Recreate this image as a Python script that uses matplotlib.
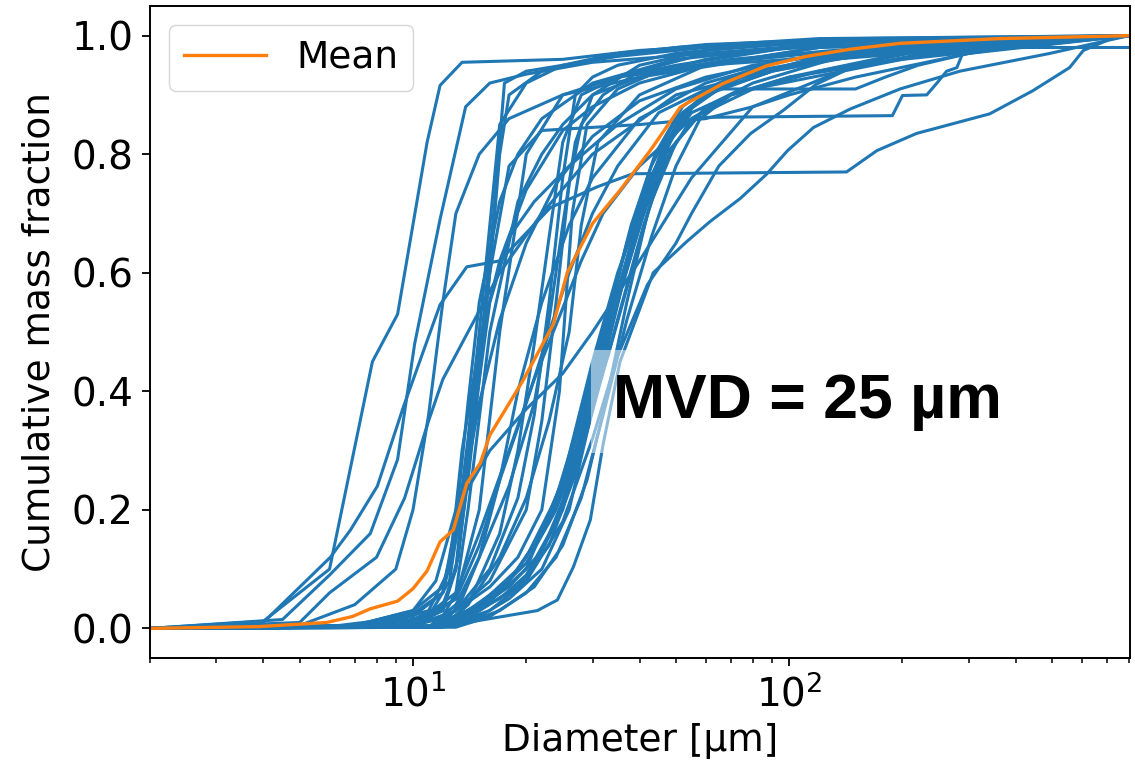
import matplotlib

matplotlib.use("Agg")
import matplotlib.pyplot as plt

# Cumulative mass fraction per sample, as (diameter [um], fraction) knots.
FINE_CURVES = [
    ([2, 4, 6, 7.8, 9.1, 10.9, 11.8, 13.5, 25, 40, 100, 800],
     [0, 0.012, 0.10, 0.45, 0.53, 0.82, 0.916, 0.955, 0.96, 0.975, 0.99, 1.0]),
    ([2, 4.5, 6, 7.7, 9.1, 10.1, 11.8, 13.8, 16, 20, 30, 60, 150, 800],
     [0, 0.015, 0.09, 0.16, 0.285, 0.48, 0.69, 0.88, 0.92, 0.935, 0.955, 0.97, 0.985, 1.0]),
    ([2, 4, 6.03, 6.82, 8.04, 9.42, 11.8, 13.9, 17, 23.2, 30.9, 38.4, 142, 171, 218, 341, 444, 556, 605, 712, 800],
     [0, 0.01, 0.12, 0.166, 0.24, 0.373, 0.546, 0.61, 0.62, 0.71, 0.745, 0.767, 0.77, 0.806, 0.835, 0.868, 0.907, 0.946, 0.975, 0.994, 1.0]),
    ([2, 5, 7, 9, 10, 11, 12, 13, 15, 18, 25, 40, 80, 200, 800],
     [0, 0.005, 0.04, 0.1, 0.2, 0.36, 0.55, 0.7, 0.8, 0.86, 0.9, 0.93, 0.96, 0.985, 1.0]),
    ([2, 5, 6, 8, 9.5, 11, 12, 14, 17, 22, 30, 50, 100, 300, 800],
     [0, 0.01, 0.06, 0.12, 0.22, 0.35, 0.42, 0.5, 0.6, 0.7, 0.8, 0.9, 0.95, 0.99, 1.0]),
]

MID_CURVES = [
    ([2, 6, 10, 12, 13, 14, 15, 16, 17, 20, 25, 35, 60, 150, 800],
     [0, 0.003, 0.02, 0.06, 0.15, 0.32, 0.5, 0.68, 0.85, 0.92, 0.95, 0.97, 0.985, 0.995, 1.0]),
    ([2, 6, 10, 12, 13, 14, 15, 16, 17, 18, 22, 30, 50, 120, 800],
     [0, 0.002, 0.015, 0.04, 0.1, 0.25, 0.42, 0.6, 0.8, 0.9, 0.94, 0.96, 0.98, 0.995, 1.0]),
    ([2, 7, 10, 12, 13.5, 15, 16.5, 17.5, 20, 25, 35, 60, 150, 800],
     [0, 0.005, 0.03, 0.07, 0.2, 0.45, 0.72, 0.92, 0.94, 0.95, 0.965, 0.98, 0.99, 1.0]),
    ([2, 7, 10, 12, 13, 14, 15, 17, 19, 22, 30, 50, 100, 800],
     [0, 0.005, 0.025, 0.06, 0.18, 0.38, 0.55, 0.72, 0.8, 0.86, 0.92, 0.96, 0.98, 1.0]),
    ([2, 8, 11, 12.5, 13.5, 15, 17, 20, 24, 30, 40, 60, 100, 300, 800],
     [0, 0.003, 0.02, 0.08, 0.22, 0.38, 0.52, 0.65, 0.75, 0.83, 0.89, 0.93, 0.96, 0.99, 1.0]),
    ([2, 8, 11, 12.5, 13.5, 15, 17, 20, 25, 30, 40, 60, 120, 800],
     [0, 0.004, 0.03, 0.1, 0.3, 0.48, 0.62, 0.74, 0.84, 0.88, 0.92, 0.95, 0.98, 1.0]),
    ([2, 7, 10, 11.5, 13, 16, 20, 25, 30, 40, 55, 80, 150, 400, 800],
     [0, 0.005, 0.03, 0.08, 0.2, 0.3, 0.37, 0.43, 0.5, 0.62, 0.76, 0.88, 0.95, 0.99, 1.0]),
    ([2, 9, 12, 13, 14, 16, 19, 22, 25, 30, 40, 60, 100, 800],
     [0, 0.003, 0.02, 0.06, 0.2, 0.5, 0.72, 0.8, 0.85, 0.9, 0.93, 0.96, 0.98, 1.0]),
    ([2, 9, 12, 13.2, 14.5, 16, 18, 21, 26, 35, 50, 80, 200, 800],
     [0, 0.004, 0.03, 0.12, 0.35, 0.55, 0.66, 0.72, 0.78, 0.85, 0.91, 0.95, 0.985, 1.0]),
    ([2, 10, 12.5, 13.5, 15, 17, 19, 22, 26, 30, 40, 60, 100, 300, 800],
     [0, 0.005, 0.02, 0.05, 0.12, 0.25, 0.4, 0.55, 0.68, 0.76, 0.86, 0.92, 0.96, 0.99, 1.0]),
    ([2, 10, 13, 16, 19, 21, 23, 25, 27, 30, 35, 50, 100, 800],
     [0, 0.003, 0.03, 0.1, 0.22, 0.36, 0.55, 0.76, 0.9, 0.93, 0.95, 0.97, 0.99, 1.0]),
    ([2, 10, 13, 16, 20, 22, 24, 26, 28, 32, 40, 60, 150, 800],
     [0, 0.004, 0.03, 0.08, 0.2, 0.35, 0.55, 0.75, 0.85, 0.9, 0.94, 0.97, 0.99, 1.0]),
    ([2, 11, 13, 15, 18, 21, 23, 25, 27, 30, 40, 60, 120, 800],
     [0, 0.002, 0.04, 0.12, 0.24, 0.38, 0.52, 0.68, 0.82, 0.9, 0.95, 0.975, 0.99, 1.0]),
    ([2, 11, 13, 16, 19, 22, 24.5, 26.5, 29, 35, 45, 70, 200, 800],
     [0, 0.003, 0.03, 0.07, 0.12, 0.2, 0.4, 0.7, 0.85, 0.91, 0.94, 0.96, 0.985, 1.0]),
    ([2, 10, 13, 15, 17, 20, 23, 26, 30, 35, 45, 70, 150, 800],
     [0, 0.003, 0.05, 0.14, 0.25, 0.38, 0.5, 0.6, 0.7, 0.78, 0.87, 0.93, 0.97, 1.0]),
    ([2, 10, 13, 15, 18, 21, 25, 28, 32, 40, 55, 80, 200, 800],
     [0, 0.005, 0.06, 0.16, 0.3, 0.42, 0.54, 0.62, 0.7, 0.78, 0.86, 0.91, 0.96, 1.0]),
    ([2, 12, 14, 17, 19, 21, 23, 25, 28, 35, 50, 100, 800],
     [0, 0.003, 0.04, 0.16, 0.3, 0.48, 0.66, 0.82, 0.9, 0.93, 0.95, 0.98, 1.0]),
    ([2, 12, 14, 17, 20, 23, 26, 28, 31, 40, 60, 120, 800],
     [0, 0.004, 0.04, 0.12, 0.22, 0.35, 0.5, 0.68, 0.82, 0.9, 0.95, 0.98, 1.0]),
]

COARSE_CURVES = [
    ([2, 11, 13, 17, 20, 24, 28, 32, 36, 42, 50, 55, 65, 100, 200, 800],
     [0, 0.003, 0.02, 0.06, 0.12, 0.22, 0.36, 0.5, 0.62, 0.75, 0.85, 0.88, 0.91, 0.95, 0.985, 1.0]),
    ([2, 11, 13, 17, 20, 24, 28, 32, 36, 42, 48, 55, 70, 120, 250, 800],
     [0, 0.002, 0.015, 0.05, 0.09, 0.18, 0.32, 0.46, 0.58, 0.72, 0.82, 0.87, 0.9, 0.94, 0.98, 1.0]),
    ([2, 11, 14, 18, 22, 26, 30, 34, 38, 44, 52, 60, 80, 150, 300, 800],
     [0, 0.003, 0.03, 0.08, 0.16, 0.28, 0.42, 0.56, 0.68, 0.8, 0.88, 0.91, 0.94, 0.97, 0.99, 1.0]),
    ([2, 12, 15, 19, 23, 27, 31, 35, 40, 46, 53, 65, 100, 200, 800],
     [0, 0.004, 0.04, 0.1, 0.18, 0.3, 0.44, 0.57, 0.7, 0.81, 0.87, 0.91, 0.95, 0.98, 1.0]),
    ([2, 12, 14, 18, 22, 26, 30, 33, 37, 43, 50, 60, 90, 200, 800],
     [0, 0.003, 0.025, 0.07, 0.13, 0.24, 0.4, 0.52, 0.65, 0.78, 0.86, 0.9, 0.94, 0.98, 1.0]),
    ([2, 12, 15, 18, 22, 26, 29, 33, 38, 45, 52, 60, 75, 130, 800],
     [0, 0.002, 0.02, 0.05, 0.1, 0.2, 0.33, 0.48, 0.64, 0.79, 0.87, 0.9, 0.93, 0.97, 1.0]),
    ([2, 12, 15, 19, 23, 27, 31, 36, 41, 47, 55, 70, 100, 250, 800],
     [0, 0.003, 0.03, 0.07, 0.14, 0.26, 0.4, 0.55, 0.68, 0.79, 0.86, 0.9, 0.93, 0.97, 1.0]),
    ([2, 13, 16, 20, 24, 28, 32, 37, 43, 50, 58, 70, 100, 200, 800],
     [0, 0.002, 0.02, 0.06, 0.12, 0.22, 0.36, 0.52, 0.66, 0.78, 0.86, 0.9, 0.93, 0.97, 1.0]),
    ([2, 12, 16, 20, 24, 28, 33, 38, 43, 50, 60, 80, 130, 800],
     [0, 0.004, 0.05, 0.11, 0.2, 0.32, 0.46, 0.6, 0.72, 0.82, 0.88, 0.92, 0.96, 1.0]),
    ([2, 13, 17, 21, 25, 29, 33, 37, 42, 48, 55, 65, 90, 180, 800],
     [0, 0.003, 0.03, 0.07, 0.14, 0.25, 0.4, 0.55, 0.7, 0.82, 0.88, 0.91, 0.94, 0.98, 1.0]),
]

TAIL_CURVES = [
    ([2, 12, 21.4, 24.2, 26.7, 29.6, 32, 35.5, 43.5, 53.5, 61.5, 74, 87, 99, 116, 145, 197, 284, 493, 800],
     [0, 0.003, 0.03, 0.048, 0.104, 0.183, 0.31, 0.45, 0.6, 0.653, 0.686, 0.725, 0.766, 0.806, 0.845, 0.876, 0.91, 0.94, 0.97, 1.0]),
    ([2, 13, 20, 25, 30, 35, 40, 47, 57, 188, 200, 232, 247, 262, 279, 289, 400, 800],
     [0, 0.005, 0.08, 0.2, 0.38, 0.55, 0.68, 0.8, 0.862, 0.865, 0.899, 0.9, 0.92, 0.94, 0.946, 0.97, 0.985, 1.0]),
    ([2, 12, 15, 20, 25, 30, 35, 42, 50, 60, 150, 180, 220, 300, 500, 800],
     [0, 0.003, 0.03, 0.1, 0.25, 0.45, 0.6, 0.74, 0.84, 0.91, 0.91, 0.93, 0.95, 0.97, 0.99, 1.0]),
    ([2, 10, 13, 15, 17, 20, 25, 35, 60, 100, 150, 250, 400, 800],
     [0, 0.005, 0.05, 0.2, 0.5, 0.8, 0.9, 0.93, 0.95, 0.96, 0.97, 0.975, 0.98, 0.98]),
    ([2, 12, 16, 20, 25, 30, 35, 42, 50, 55, 65, 79, 96, 118, 145, 250, 500, 800],
     [0, 0.003, 0.03, 0.08, 0.18, 0.32, 0.46, 0.58, 0.65, 0.7, 0.78, 0.835, 0.873, 0.918, 0.945, 0.975, 0.99, 1.0]),
    ([2, 10, 12, 13, 14, 16, 18, 22, 40, 60, 80, 100, 150, 300, 800],
     [0, 0.005, 0.03, 0.1, 0.3, 0.6, 0.78, 0.84, 0.85, 0.86, 0.88, 0.9, 0.93, 0.97, 1.0]),
]

MEAN_D = [2, 3.9, 5.9, 6.9, 7.7, 9.1, 10, 10.9, 11.8, 12.8, 13.9, 15.1, 16, 19.6, 23.6,
          25.7, 30, 35.5, 42.7, 51.3, 53.5, 66.6, 87, 111, 145, 197, 363, 805]
MEAN_F = [0, 0.003, 0.01, 0.02, 0.033, 0.046, 0.067, 0.097, 0.146, 0.166, 0.245, 0.279, 0.326, 0.418, 0.513,
          0.6, 0.683, 0.739, 0.806, 0.879, 0.886, 0.919, 0.949, 0.965, 0.977, 0.987, 0.995, 1.0]

MVD_LABEL = "MVD = 25 µm"

plt.rcParams.update({"font.size": 27, "axes.linewidth": 1.4})

fig = plt.figure(figsize=(11.35, 7.68), dpi=100)
ax = fig.add_axes([0.1322, 0.1432, 0.8634, 0.849])

for group in (FINE_CURVES, MID_CURVES, COARSE_CURVES, TAIL_CURVES):
    for diam, frac in group:
        ax.plot(diam, frac, color="#1f77b4", lw=2.2)

ax.plot(MEAN_D, MEAN_F, color="#ff7f0e", lw=2.4, label="Mean")

ax.set_xscale("log")
ax.set_xlim(2, 805)
ax.set_ylim(-0.05, 1.05)
ax.set_yticks([0.0, 0.2, 0.4, 0.6, 0.8, 1.0])
ax.tick_params(which="major", length=6, width=1.3, pad=6, labelsize=28)
ax.tick_params(which="minor", length=3.8, width=1.1)
ax.set_xlabel("Diameter [µm]", labelpad=6)
ax.set_ylabel("Cumulative mass fraction", labelpad=10)
ax.legend(loc="upper left", handlelength=2.2)

ax.text(34, 0.355, MVD_LABEL, fontsize=45, fontweight="bold", family="Liberation Sans",
        va="baseline", ha="left",
        bbox=dict(boxstyle="square,pad=0.35", facecolor="white", edgecolor="none", alpha=0.5))

fig.savefig("out.png", dpi=100)
